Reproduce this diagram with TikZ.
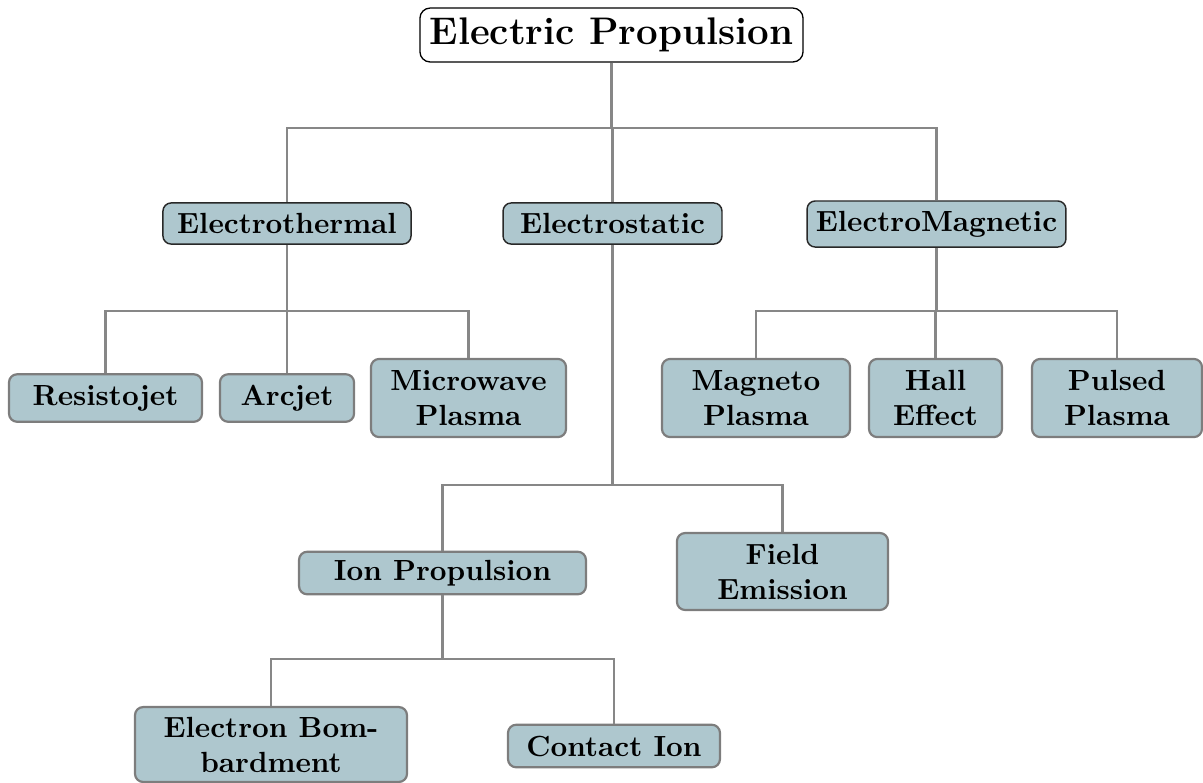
\documentclass[tikz,border=0pt]{standalone}
\usepackage{tikz}
\definecolor{boxfill}{RGB}{174,199,206}
\definecolor{boxline}{RGB}{125,125,125}
\definecolor{topline}{RGB}{40,40,40}
\definecolor{edgecol}{RGB}{135,135,135}
\begin{document}
\begin{tikzpicture}[x=0.343pt,y=-0.343pt,
  base/.style={rounded corners=2.8pt, font=\bfseries, align=center, inner sep=0pt, fill=boxfill},
  lvlone/.style={base, draw=topline, line width=0.5pt},
  lvltwo/.style={base, draw=boxline, line width=0.75pt},
  rootbox/.style={rounded corners=3.5pt, draw=black, line width=0.45pt, fill=white, inner sep=0pt,
    font=\fontsize{13.2pt}{16pt}\selectfont\bfseries},
  conn/.style={draw=edgecol, line width=0.7pt}]
\useasboundingbox (0,0) rectangle (1203,782);

\node[rootbox, minimum width=131.4pt, minimum height=18.5pt] (root) at (611.5,35) {Electric Propulsion};

\node[lvlone, minimum width=85.1pt, minimum height=14.1pt] (eth) at (287,223.5) {Electrothermal};
\node[lvlone, minimum width=75.1pt, minimum height=14.1pt] (est) at (612.5,223.5) {Electrostatic};
\node[lvlone, minimum width=88.8pt, minimum height=15.8pt] (emg) at (936.5,224) {ElectroMagnetic};

\node[lvltwo, minimum width=66.2pt, minimum height=16.3pt] (res) at (105.5,398) {Resistojet};
\node[lvltwo, minimum width=46.0pt, minimum height=16.3pt] (arc) at (287,398) {Arcjet};
\node[lvltwo, minimum width=66.9pt, minimum height=26.8pt] (mic) at (468.5,398) {Microwave\\Plasma};

\node[lvltwo, minimum width=64.5pt, minimum height=26.8pt] (mag) at (756,398) {Magneto\\Plasma};
\node[lvltwo, minimum width=45.6pt, minimum height=26.8pt] (hal) at (935.5,398) {Hall\\Effect};
\node[lvltwo, minimum width=58.3pt, minimum height=26.8pt] (pul) at (1117,398) {Pulsed\\Plasma};

\node[lvltwo, minimum width=98.4pt, minimum height=14.6pt] (ion) at (442.5,573) {Ion Propulsion};
\node[lvltwo, minimum width=72.4pt, minimum height=26.4pt] (fie) at (782.5,571.5) {Field\\Emission};

\node[lvltwo, minimum width=93.3pt, minimum height=25.7pt] (ebo) at (271,744.5) {Electron Bom-\\bardment};
\node[lvltwo, minimum width=72.7pt, minimum height=14.6pt] (con) at (614,746) {Contact Ion};

\foreach \p/\c/\y in {root/eth/128, root/est/128, root/emg/128,
                      eth/res/311, eth/arc/311, eth/mic/311,
                      emg/mag/311, emg/hal/311, emg/pul/311,
                      est/ion/485, est/fie/485,
                      ion/ebo/659, ion/con/659}
  \draw[conn] (\p.south) -- (\p.south |- 0,\y) -| (\c.north);
\end{tikzpicture}
\end{document}
